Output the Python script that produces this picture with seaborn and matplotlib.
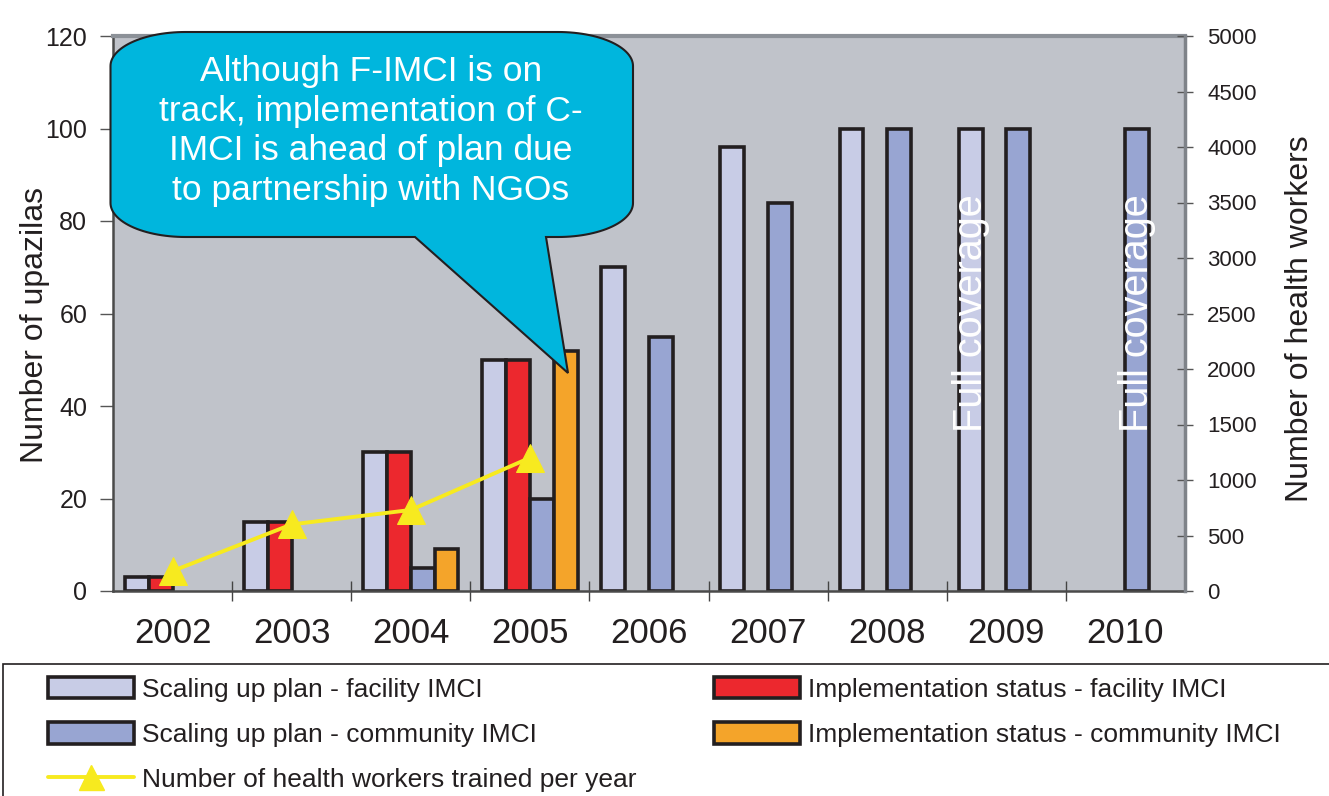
import numpy as np
import pandas as pd
import matplotlib
matplotlib.use("Agg")
import matplotlib.pyplot as plt
from matplotlib.patches import Patch, Rectangle, Polygon
from matplotlib.lines import Line2D
import seaborn as sns

# ---------------- data ----------------
years = ["2002", "2003", "2004", "2005", "2006", "2007", "2008", "2009", "2010"]
series = ["Scaling up plan - facility IMCI",
          "Implementation status - facility IMCI",
          "Scaling up plan - community IMCI",
          "Implementation status - community IMCI"]
plan_facility = [3, 15, 30, 50, 70, 96, 100, 100, np.nan]
impl_facility = [3, 15, 30, 50, np.nan, np.nan, np.nan, np.nan, np.nan]
plan_community = [np.nan, np.nan, 5, 20, 55, 84, 100, 100, 100]
impl_community = [np.nan, np.nan, 9, 52, np.nan, np.nan, np.nan, np.nan, np.nan]
worker_years = ["2002", "2003", "2004", "2005"]
workers_trained = [180, 600, 730, 1200]
line_label = "Number of health workers trained per year"
left_ticks = [0, 20, 40, 60, 80, 100, 120]
right_ticks = [0, 500, 1000, 1500, 2000, 2500, 3000, 3500, 4000, 4500, 5000]
callout_text = "Although F-IMCI is on\ntrack, implementation of C-\nIMCI is ahead of plan due\nto partnership with NGOs"
coverage_text = "Full coverage"
coverage_at = [("2009", 0), ("2010", 2)]  # (year, series slot)

colors = ["#C8CCE6", "#EC282E", "#98A5D2", "#F4A42A"]
yellow = "#F7EA1F"
edge = "#231F20"
bg = "#C0C3CA"
bubble = "#00B6DD"

rows = []
for s, vals in zip(series, [plan_facility, impl_facility, plan_community, impl_community]):
    for y, v in zip(years, vals):
        if not np.isnan(v):
            rows.append({"year": y, "series": s, "value": v})
df = pd.DataFrame(rows)

# ---------------- figure ----------------
sns.set_theme(style="white")
plt.rcParams["font.family"] = ["Liberation Sans", "DejaVu Sans"]
W, H = 1329, 796
fig = plt.figure(figsize=(W / 100, H / 100), dpi=100)
L, R, T, B = 113, 1185, 36, 591
ax = fig.add_axes([L / W, 1 - B / H, (R - L) / W, (B - T) / H])
ax.set_facecolor(bg)

sns.barplot(data=df, x="year", y="value", hue="series", order=years, hue_order=series,
            palette=colors, saturation=1, width=0.8, edgecolor=edge, linewidth=2.6,
            errorbar=None, legend=False, ax=ax, zorder=2)
ax.set_xlim(-0.5, len(years) - 0.5)
ax.set_ylim(0, 120)
ax.set_yticks(left_ticks)
ax.set_xlabel("")
ax.set_ylabel("Number of upazilas", fontsize=23, color=edge)
ax.yaxis.set_label_coords(-0.059, 0.48)

ax.tick_params(axis="y", which="major", direction="out", length=9.5, width=1,
               color="#555555", labelsize=18, labelcolor=edge, pad=9, left=True)
ax.tick_params(axis="x", which="major", length=0, labelsize=25, labelcolor=edge, pad=19)
ax.set_xticks(np.arange(len(years) - 1) + 0.5, minor=True)
ax.tick_params(axis="x", which="minor", direction="inout", length=15, width=1,
               color="#444444", bottom=True)

for side in ["left", "bottom"]:
    ax.spines[side].set_color("#4A4A4A")
    ax.spines[side].set_linewidth(1.8)
ax.spines["top"].set_color("#8C9198")
ax.spines["top"].set_linewidth(3)
ax.spines["right"].set_visible(False)

# secondary axis with line
ax2 = ax.twinx()
xpos = [years.index(y) for y in worker_years]
sns.lineplot(x=xpos, y=workers_trained, ax=ax2, color=yellow, linewidth=2.8,
             marker="^", markersize=20, markeredgecolor=yellow, zorder=5)
ax2.set_ylim(0, 5000)
ax2.set_yticks(right_ticks)
ax2.set_xlim(-0.5, len(years) - 0.5)
ax2.set_ylabel("Number of health workers", fontsize=23, color=edge, rotation=90)
ax2.yaxis.set_label_coords(1.0935, 0.49)
ax2.tick_params(axis="y", direction="inout", length=12, width=1, color="#555555",
                labelsize=16, labelcolor=edge, pad=10, right=True)
ax2.spines["right"].set_color("#7F8389")
ax2.spines["right"].set_linewidth(2.5)
for side in ["left", "top", "bottom"]:
    ax2.spines[side].set_visible(False)

# "Full coverage" labels
for yr, slot in coverage_at:
    xc = years.index(yr) - 0.3 + 0.2 * slot
    ax.text(xc, 60, coverage_text, rotation=90, ha="center", va="center",
            fontsize=28.5, color="white", zorder=6)

# callout bubble (axes-fraction geometry from the picture)
def axfrac(px, py):
    return ((px - L) / (R - L), (B - py) / (B - T))

x0, x1, y0, y1 = 110.5, 633, 32, 237
rx, ry = 75, 34
pts = []
def arc(cx, cy, a0, a1):
    for t in np.linspace(np.radians(a0), np.radians(a1), 30):
        pts.append((cx + rx * np.cos(t), cy - ry * np.sin(t)))
arc(x1 - rx, y0 + ry, 0, 90)        # top-right
arc(x0 + rx, y0 + ry, 90, 180)      # top-left
arc(x0 + rx, y1 - ry, 180, 270)     # bottom-left
pts += [(415, y1), (568, 373), (546, y1)]
arc(x1 - rx, y1 - ry, 270, 360)     # bottom-right
poly = Polygon([axfrac(*p) for p in pts], closed=True, transform=ax2.transAxes,
               facecolor=bubble, edgecolor=edge, linewidth=1.5, zorder=10, clip_on=False)
ax2.add_patch(poly)
tx, ty = axfrac(371, 131)
ax2.text(tx, ty, callout_text, transform=ax2.transAxes, ha="center", va="center",
         fontsize=25.5, color="white", linespacing=1.26, zorder=11)

# legend frame
fig.add_artist(Rectangle((3 / W, -0.05), 1.1, 0.05 + (1 - 664 / H), transform=fig.transFigure,
                         fill=False, edgecolor=edge, linewidth=1.2))

def bar_handle(c):
    return Patch(facecolor=c, edgecolor=edge, linewidth=2.6)

line_handle = Line2D([], [], color=yellow, linewidth=2.8, marker="^", markersize=18,
                     markeredgecolor=yellow)
fs = 19
fpx = fs * 100 / 72
leg_kw = dict(loc="upper left", frameon=False, fontsize=fs, handlelength=86 / fpx,
              handleheight=23 / fpx, handletextpad=8 / fpx, labelspacing=0.77,
              borderpad=0, borderaxespad=0, labelcolor=edge)
leg1 = fig.legend([bar_handle(colors[0]), bar_handle(colors[2]), line_handle],
                  [series[0], series[2], line_label],
                  bbox_to_anchor=(48 / W, 1 - 677 / H), **leg_kw)
leg2 = fig.legend([bar_handle(colors[1]), bar_handle(colors[3])],
                  [series[1], series[3]],
                  bbox_to_anchor=(714 / W, 1 - 677 / H), **leg_kw)

fig.savefig("out.png", dpi=100, facecolor="white")
